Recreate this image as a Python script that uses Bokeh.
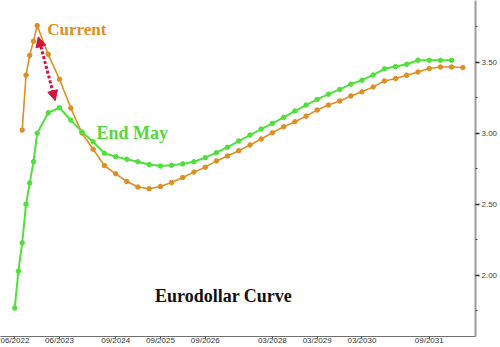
import pandas as pd
from bokeh.plotting import figure
from bokeh.models import (Label, Arrow, NormalHead, FixedTicker, SingleIntervalTicker,
                          DatetimeTickFormatter, NumeralTickFormatter, Range1d)
from bokeh.embed import file_html
from bokeh.resources import INLINE

# ---------------- data ----------------
end_may_dates = ["2022-06-15", "2022-07-15", "2022-08-15", "2022-09-15", "2022-10-15",
                 "2022-11-15", "2022-12-15", "2023-03-15", "2023-06-15", "2023-09-15",
                 "2023-12-15", "2024-03-15", "2024-06-15", "2024-09-15", "2024-12-15",
                 "2025-03-15", "2025-06-15", "2025-09-15", "2025-12-15", "2026-03-15",
                 "2026-06-15", "2026-09-15", "2026-12-15", "2027-03-15", "2027-06-15",
                 "2027-09-15", "2027-12-15", "2028-03-15", "2028-06-15", "2028-09-15",
                 "2028-12-15", "2029-03-15", "2029-06-15", "2029-09-15", "2029-12-15",
                 "2030-03-15", "2030-06-15", "2030-09-15", "2030-12-15", "2031-03-15",
                 "2031-06-15", "2031-09-15", "2031-12-15", "2032-03-15"]
end_may_values = [1.77, 2.03, 2.23, 2.50, 2.65, 2.80, 3.00, 3.145, 3.18, 3.093,
                  3.01, 2.94, 2.86, 2.836, 2.818, 2.80, 2.78, 2.77, 2.775, 2.785,
                  2.80, 2.829, 2.864, 2.902, 2.946, 2.988, 3.03, 3.07, 3.112, 3.157,
                  3.199, 3.239, 3.276, 3.309, 3.346, 3.374, 3.411, 3.454, 3.47, 3.486,
                  3.514, 3.514, 3.514, 3.514]

current_dates = ["2022-08-15", "2022-09-15", "2022-10-15", "2022-11-15", "2022-12-15",
                 "2023-03-15", "2023-06-15", "2023-09-15", "2023-12-15", "2024-03-15",
                 "2024-06-15", "2024-09-15", "2024-12-15", "2025-03-15", "2025-06-15",
                 "2025-09-15", "2025-12-15", "2026-03-15", "2026-06-15", "2026-09-15",
                 "2026-12-15", "2027-03-15", "2027-06-15", "2027-09-15", "2027-12-15",
                 "2028-03-15", "2028-06-15", "2028-09-15", "2028-12-15", "2029-03-15",
                 "2029-06-15", "2029-09-15", "2029-12-15", "2030-03-15", "2030-06-15",
                 "2030-09-15", "2030-12-15", "2031-03-15", "2031-06-15", "2031-09-15",
                 "2031-12-15", "2032-03-15", "2032-06-15"]
current_values = [3.023, 3.409, 3.549, 3.649, 3.759, 3.556, 3.381, 3.178, 3.002, 2.888,
                  2.773, 2.715, 2.661, 2.622, 2.61, 2.626, 2.654, 2.689, 2.727, 2.762,
                  2.806, 2.841, 2.878, 2.918, 2.96, 3.004, 3.046, 3.082, 3.121, 3.164,
                  3.199, 3.228, 3.263, 3.292, 3.327, 3.369, 3.386, 3.409, 3.432, 3.456,
                  3.467, 3.467, 3.463]

x_tick_dates = ["2022-06-15", "2023-06-15", "2024-09-15", "2025-09-15", "2026-09-15",
                "2028-03-15", "2029-03-15", "2030-03-15", "2031-09-15"]

title_text = "Eurodollar Curve"
label_current = "Current"
label_end_may = "End May"

# ---------------- styles ----------------
ORANGE = "#DF8E22"
GREEN = "#4FE03A"
RED = "#D6113F"

em_x = pd.to_datetime(end_may_dates)
cu_x = pd.to_datetime(current_dates)
ticks_ms = [pd.Timestamp(d).value / 1e6 for d in x_tick_dates]

p = figure(width=500, height=347, x_axis_type="datetime", y_axis_location="right",
           output_backend="svg", toolbar_location=None,
           x_range=Range1d(pd.Timestamp("2022-02-19"), pd.Timestamp("2032-09-26")),
           y_range=Range1d(1.57, 3.935))
p.min_border_left = 0
p.min_border_top = 0
p.min_border_right = 0
p.min_border_bottom = 0
p.outline_line_color = None
p.background_fill_color = "white"
p.border_fill_color = "white"
p.xgrid.visible = False
p.ygrid.visible = False

# lines
p.line(cu_x, current_values, line_color=ORANGE, line_width=1.6)
p.scatter(cu_x, current_values, size=4.5, fill_color=ORANGE, line_color=ORANGE)
p.line(em_x, end_may_values, line_color=GREEN, line_width=2)
p.scatter(em_x, end_may_values, size=4.5, fill_color=GREEN, line_color=GREEN)

# axes
xa = p.xaxis[0]
xa.ticker = FixedTicker(ticks=ticks_ms, minor_ticks=[])
xa.formatter = DatetimeTickFormatter(days="%m/%Y", months="%m/%Y", years="%m/%Y")
xa.axis_line_color = "#6f6f6f"
xa.axis_line_width = 1
xa.major_tick_line_color = "#555555"
xa.major_tick_out = 2
xa.major_tick_in = 0
xa.minor_tick_line_color = None
xa.major_label_standoff = -3
xa.major_label_text_font = "Liberation Sans"
xa.major_label_text_font_size = "8px"
xa.major_label_text_color = "#333333"

ya = p.yaxis[0]
ya.ticker = SingleIntervalTicker(interval=0.5, num_minor_ticks=2)
ya.formatter = NumeralTickFormatter(format="0.00")
ya.axis_line_color = "#9a9a9a"
ya.axis_line_width = 2
ya.major_tick_line_color = "#222222"
ya.major_tick_line_width = 1.5
ya.major_tick_out = 4
ya.major_tick_in = 0
ya.minor_tick_line_color = "#444444"
ya.minor_tick_out = 2
ya.minor_tick_in = 0
ya.major_label_standoff = 2
ya.major_label_text_font = "Liberation Sans"
ya.major_label_text_font_size = "8px"
ya.major_label_text_color = "#444444"

# annotations anchored to the data
ipk = current_values.index(max(current_values))
# first local peak of the End May curve
gpk = next(i for i in range(len(end_may_values) - 1)
           if end_may_values[i + 1] < end_may_values[i])

p.add_layout(Label(x=cu_x[ipk], y=current_values[ipk], x_offset=10, y_offset=-4,
                   text=label_current, text_font="Liberation Serif", text_font_style="bold",
                   text_font_size="17px", text_color=ORANGE, text_baseline="middle"))
p.add_layout(Label(x=em_x[gpk], y=end_may_values[gpk], x_offset=37, y_offset=-25,
                   text=label_end_may, text_font="Liberation Serif", text_font_style="bold",
                   text_font_size="18px", text_color="#55D83E", text_baseline="middle"))
p.add_layout(Label(x=pd.Timestamp("2025-08-01"), y=1.853, text=title_text,
                   text_font="Liberation Serif", text_font_style="bold",
                   text_font_size="18px", text_color="#111111", text_baseline="middle"))

p.add_layout(Arrow(x_start=cu_x[ipk] + pd.Timedelta(days=9), y_start=current_values[ipk] - 0.08,
                   x_end=em_x[gpk] - pd.Timedelta(days=35), y_end=end_may_values[gpk] + 0.05,
                   line_color=RED, line_width=3, line_dash="3 2",
                   start=NormalHead(size=10, fill_color=RED, line_color=RED),
                   end=NormalHead(size=10, fill_color=RED, line_color=RED)))

open("out.html", "w").write(file_html(p, INLINE))
